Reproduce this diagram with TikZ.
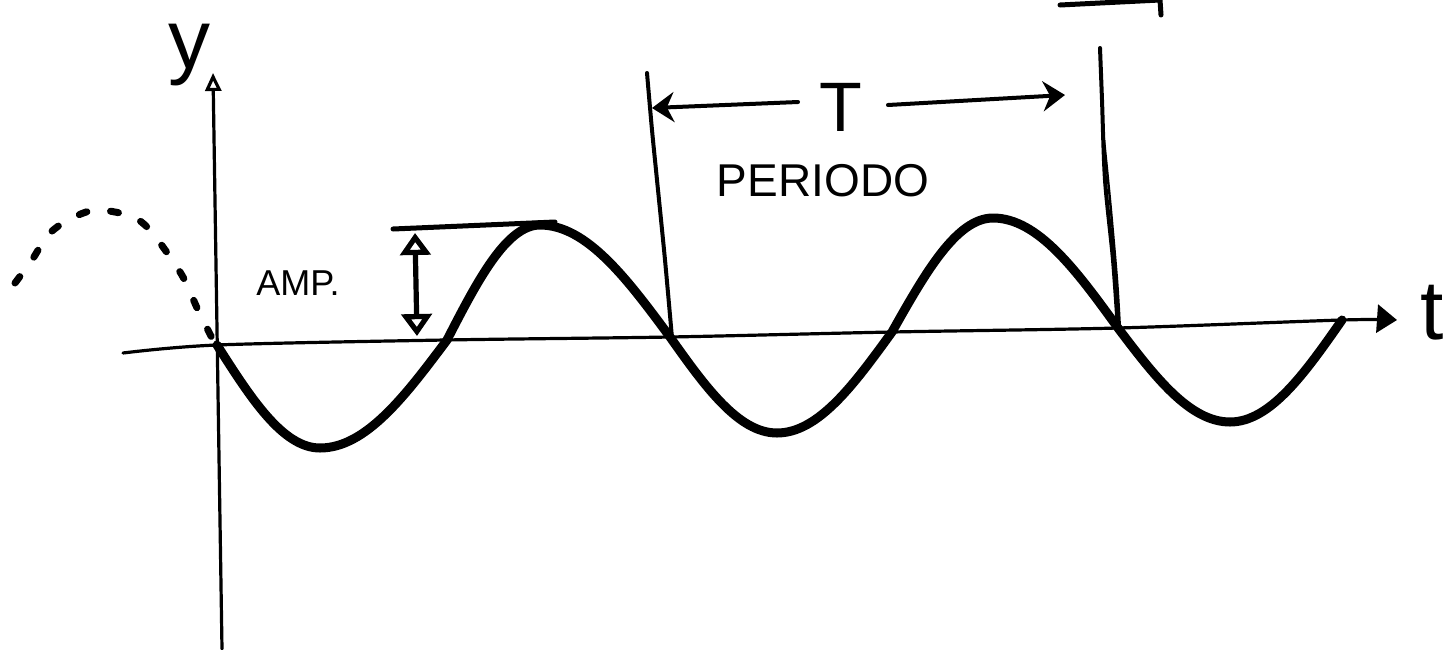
\documentclass[tikz,border=0pt]{standalone}
\usepackage{fontspec}
\setmainfont{Liberation Sans}
\usetikzlibrary{arrows.meta}
\begin{document}
\begin{tikzpicture}[x=0.5pt,y=-0.5pt, line cap=round, line join=round,
  wave/.style={line width=4.5pt},
  axis/.style={line width=1.6pt},
  guide/.style={line width=2pt},
  lbl/.style={inner sep=0pt, outer sep=0pt}]
\useasboundingbox (0,0) rectangle (1451,649);
% labels
\node[lbl] (ylab) at (189,55) {\fontsize{42}{42}\selectfont y};
\node[lbl] (tlab) at (1432,313) {\fontsize{42}{42}\selectfont t};
\node[lbl] (Tlab) at (841,107) {\fontsize{35}{35}\selectfont T};
\node[lbl] (per) at (823,181) {\fontsize{23}{23}\selectfont PERIODO};
\node[lbl] (amp) at (298,283) {\fontsize{18}{18}\selectfont AMP.};
% coordinates
\coordinate (ybot) at (222,649);
\coordinate (ytop) at (213,73);
\coordinate (xl) at (123,353);
\coordinate (xr) at (1397,320);
\coordinate (ampL) at (393,229);
\coordinate (ampR) at (555,222);
\coordinate (ampT) at (415,233);
\coordinate (ampB) at (417,336);
\coordinate (pL) at (652,108);
\coordinate (pR) at (1065,95);
\coordinate (tl) at (798,102);
\coordinate (tr) at (888,105);
% y axis
\draw[axis,-{Triangle[open,length=9pt,width=8pt]}] (ybot) -- (ytop);
% x axis
\draw[axis,-{Triangle[length=10pt,width=14pt]}] plot[smooth] coordinates {(xl) (217,345) (445,340) (670,337) (892,332) (1118,328) (1342,320) (xr)};
% dotted part
\draw[line width=3.5pt, dash pattern=on 4pt off 12pt] plot[smooth] coordinates {(15,283) (32,260) (48,235) (68,220) (95,210) (128,215) (145,225) (163,247) (183,277) (198,310) (213,340)};
% sine wave
\draw[wave] (217,345)
  .. controls (250.6,397.8) and (282.7,448) .. (320,448)
  .. controls (366,448) and (405.6,395.3) .. (447,340)
  .. controls (477.3,281.1) and (506.3,225) .. (540,225)
  .. controls (587,225) and (627.6,279.6) .. (670,337)
  .. controls (704.9,386.2) and (738.3,433) .. (777,433)
  .. controls (818.6,433) and (854.5,383.7) .. (892,332)
  .. controls (924.9,273.6) and (956.4,218) .. (993,218)
  .. controls (1038.2,218) and (1077.2,271.6) .. (1118,328)
  .. controls (1154.5,376.2) and (1189.5,422) .. (1230,422)
  .. controls (1270.5,422) and (1305.5,372.3) .. (1342,320);
% amplitude
\draw[line width=2.5pt] (ampL) -- (ampR);
\draw[line width=2.6pt, {Triangle[open,length=11pt,width=15pt]}-{Triangle[open,length=11pt,width=15pt]}] (ampT) -- (ampB);
% period guides
\draw[guide] plot[smooth] coordinates {(647,73) (652,130) (657,180) (665,260) (672,338)};
\draw[guide] plot[smooth] coordinates {(1100,48) (1102,100) (1105,180) (1113,260) (1118,330)};
\draw[line width=1.2pt] plot[smooth] coordinates {(1103,130) (1110,200) (1117,280) (1120,330)};
\draw[guide, {Stealth[length=11pt,width=15pt]}-] (pL) -- (tl);
\draw[guide, -{Stealth[length=11pt,width=15pt]}] (tr) -- (pR);
% top right fragment
\draw[line width=2.5pt] (1060,5) -- (1160,0) -- (1161,15);
\end{tikzpicture}
\end{document}
